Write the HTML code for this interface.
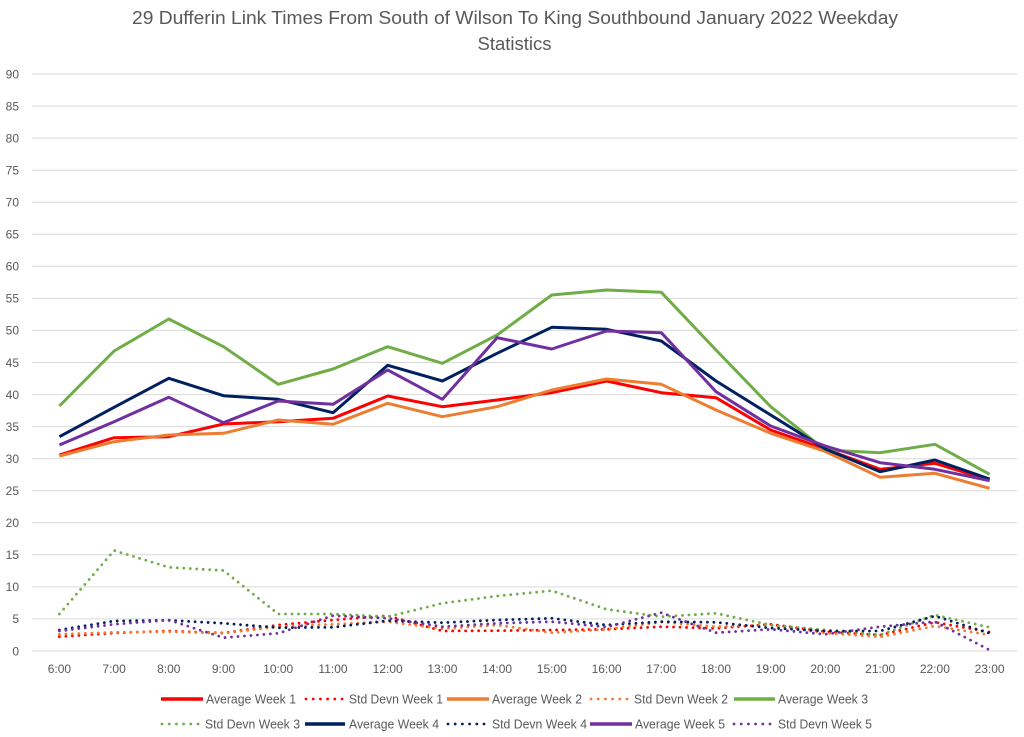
<!DOCTYPE html>
<html>
<head>
<meta charset="utf-8">
<style>
html,body{margin:0;padding:0;background:#fff;}
svg{display:block;}
text{font-family:"Liberation Sans",sans-serif;fill:#595959;}
</style>
</head>
<body>
<svg width="1024" height="737" viewBox="0 0 1024 737" xmlns="http://www.w3.org/2000/svg">
<rect width="1024" height="737" fill="#fff"/>
<!-- Title -->
<text x="132" y="24" font-size="18.5" textLength="766" lengthAdjust="spacingAndGlyphs">29 Dufferin Link Times From South of Wilson To King Southbound January 2022 Weekday</text>
<text x="514.5" y="50" font-size="18.5" text-anchor="middle">Statistics</text>

<!-- Gridlines -->
<g stroke="#D9D9D9" stroke-width="1">
<line x1="32" x2="1017" y1="651" y2="651"/>
<line x1="32" x2="1017" y1="618.9" y2="618.9"/>
<line x1="32" x2="1017" y1="586.9" y2="586.9"/>
<line x1="32" x2="1017" y1="554.8" y2="554.8"/>
<line x1="32" x2="1017" y1="522.8" y2="522.8"/>
<line x1="32" x2="1017" y1="490.7" y2="490.7"/>
<line x1="32" x2="1017" y1="458.7" y2="458.7"/>
<line x1="32" x2="1017" y1="426.6" y2="426.6"/>
<line x1="32" x2="1017" y1="394.6" y2="394.6"/>
<line x1="32" x2="1017" y1="362.5" y2="362.5"/>
<line x1="32" x2="1017" y1="330.4" y2="330.4"/>
<line x1="32" x2="1017" y1="298.4" y2="298.4"/>
<line x1="32" x2="1017" y1="266.3" y2="266.3"/>
<line x1="32" x2="1017" y1="234.3" y2="234.3"/>
<line x1="32" x2="1017" y1="202.2" y2="202.2"/>
<line x1="32" x2="1017" y1="170.2" y2="170.2"/>
<line x1="32" x2="1017" y1="138.1" y2="138.1"/>
<line x1="32" x2="1017" y1="106.1" y2="106.1"/>
<line x1="32" x2="1017" y1="74" y2="74"/>
</g>

<!-- Y labels -->
<g font-size="12" text-anchor="end">
<text x="19" y="655.3">0</text>
<text x="19" y="623.2">5</text>
<text x="19" y="591.2">10</text>
<text x="19" y="559.1">15</text>
<text x="19" y="527.1">20</text>
<text x="19" y="495">25</text>
<text x="19" y="463">30</text>
<text x="19" y="430.9">35</text>
<text x="19" y="398.9">40</text>
<text x="19" y="366.8">45</text>
<text x="19" y="334.7">50</text>
<text x="19" y="302.7">55</text>
<text x="19" y="270.6">60</text>
<text x="19" y="238.6">65</text>
<text x="19" y="206.5">70</text>
<text x="19" y="174.5">75</text>
<text x="19" y="142.4">80</text>
<text x="19" y="110.4">85</text>
<text x="19" y="78.3">90</text>
</g>

<!-- X labels -->
<g font-size="12" text-anchor="middle">
<text x="59.4" y="673">6:00</text>
<text x="114.1" y="673">7:00</text>
<text x="168.8" y="673">8:00</text>
<text x="223.5" y="673">9:00</text>
<text x="278.2" y="673">10:00</text>
<text x="333" y="673">11:00</text>
<text x="387.7" y="673">12:00</text>
<text x="442.4" y="673">13:00</text>
<text x="497.1" y="673">14:00</text>
<text x="551.8" y="673">15:00</text>
<text x="606.6" y="673">16:00</text>
<text x="661.3" y="673">17:00</text>
<text x="716" y="673">18:00</text>
<text x="770.7" y="673">19:00</text>
<text x="825.4" y="673">20:00</text>
<text x="880.2" y="673">21:00</text>
<text x="934.9" y="673">22:00</text>
<text x="989.6" y="673">23:00</text>
</g>

<!-- Series -->
<g fill="none" stroke-linejoin="round">
<!-- Average Week 1 -->
<polyline stroke="#FF0000" stroke-width="3" points="59.4,455 114.1,437.7 168.8,436.7 223.5,424 278.2,421.7 333,418.3 387.7,396 442.4,406.7 497.1,400 551.8,392.7 606.6,381 661.3,392.7 716,397.7 770.7,430 825.4,449 880.2,469.3 934.9,463.3 989.6,480"/>
<!-- Std Devn Week 1 -->
<polyline stroke="#FF0000" stroke-width="2.8" stroke-linecap="round" stroke-dasharray="0 6.5" points="59.4,636.7 114.1,633 168.8,631 223.5,633 278.2,625 333,620 387.7,615.7 442.4,631 497.1,630.7 551.8,630 606.6,629.3 661.3,626.7 716,628.3 770.7,624.3 825.4,631.7 880.2,635 934.9,622.3 989.6,632"/>
<!-- Average Week 2 -->
<polyline stroke="#ED7D31" stroke-width="3" points="59.4,456 114.1,441.7 168.8,435 223.5,433.3 278.2,420 333,424.3 387.7,403.3 442.4,416.7 497.1,406.7 551.8,390 606.6,379 661.3,384.3 716,410 770.7,433.3 825.4,451.5 880.2,477.3 934.9,473.3 989.6,488.3"/>
<!-- Std Devn Week 2 -->
<polyline stroke="#ED7D31" stroke-width="2.8" stroke-linecap="round" stroke-dasharray="0 6.5" points="59.4,634.3 114.1,632.3 168.8,631.7 223.5,633.3 278.2,626.7 333,624.3 387.7,621.7 442.4,628.7 497.1,625 551.8,632.7 606.6,629.3 661.3,622 716,626.7 770.7,625 825.4,633 880.2,637 934.9,626 989.6,635"/>
<!-- Average Week 3 -->
<polyline stroke="#70AD47" stroke-width="3" points="59.4,406 114.1,351 168.8,319 223.5,346.7 278.2,384.3 333,369 387.7,346.7 442.4,363.3 497.1,335 551.8,295 606.6,290 661.3,292.3 716,350 770.7,406.7 825.4,450 880.2,452.7 934.9,444.3 989.6,474.3"/>
<!-- Std Devn Week 3 -->
<polyline stroke="#70AD47" stroke-width="2.8" stroke-linecap="round" stroke-dasharray="0 6.5" points="59.4,614 114.1,550.5 168.8,567.3 223.5,570.5 278.2,614 333,614 387.7,616.7 442.4,603.3 497.1,596 551.8,590.7 606.6,609.3 661.3,616.7 716,613.3 770.7,625 825.4,630 880.2,635 934.9,615 989.6,627.3"/>
<!-- Average Week 4 -->
<polyline stroke="#002060" stroke-width="3" points="59.4,436.7 114.1,407.3 168.8,378.3 223.5,395.7 278.2,399.3 333,412.7 387.7,365.3 442.4,381 497.1,353.3 551.8,327.3 606.6,329.3 661.3,341 716,381 770.7,415 825.4,449 880.2,471.7 934.9,460 989.6,479"/>
<!-- Std Devn Week 4 -->
<polyline stroke="#002060" stroke-width="2.8" stroke-linecap="round" stroke-dasharray="0 6.5" points="59.4,630 114.1,621 168.8,620.3 223.5,623.3 278.2,627.7 333,627.3 387.7,620.7 442.4,622.7 497.1,620 551.8,618.3 606.6,625 661.3,621.7 716,622.3 770.7,628 825.4,631 880.2,631 934.9,616 989.6,633.3"/>
<!-- Average Week 5 -->
<polyline stroke="#7030A0" stroke-width="3" points="59.4,445 114.1,421.7 168.8,397.3 223.5,422.7 278.2,401 333,404.3 387.7,370 442.4,399.3 497.1,337.7 551.8,349 606.6,331 661.3,332.7 716,391.7 770.7,426 825.4,446 880.2,462.7 934.9,469.3 989.6,480.7"/>
<!-- Std Devn Week 5 -->
<polyline stroke="#7030A0" stroke-width="2.8" stroke-linecap="round" stroke-dasharray="0 6.5" points="59.4,631 114.1,624.3 168.8,620 223.5,637.7 278.2,633.3 333,615.7 387.7,618.3 442.4,626.7 497.1,623.3 551.8,621.7 606.6,627 661.3,612.7 716,632.7 770.7,629.3 825.4,634.3 880.2,626.7 934.9,621.7 989.6,650"/>
</g>

<!-- Legend -->
<g fill="none">
<line x1="161" x2="203" y1="699" y2="699" stroke="#FF0000" stroke-width="3.5"/>
<line x1="306" x2="342" y1="699" y2="699" stroke="#FF0000" stroke-width="2.8" stroke-linecap="round" stroke-dasharray="0 7.2"/>
<line x1="447" x2="489" y1="699" y2="699" stroke="#ED7D31" stroke-width="3.5"/>
<line x1="591" x2="627" y1="699" y2="699" stroke="#ED7D31" stroke-width="2.8" stroke-linecap="round" stroke-dasharray="0 7.2"/>
<line x1="734" x2="775" y1="699" y2="699" stroke="#70AD47" stroke-width="3.5"/>

<line x1="162" x2="198" y1="724" y2="724" stroke="#70AD47" stroke-width="2.8" stroke-linecap="round" stroke-dasharray="0 7.2"/>
<line x1="305" x2="345" y1="724" y2="724" stroke="#002060" stroke-width="3.5"/>
<line x1="448" x2="484" y1="724" y2="724" stroke="#002060" stroke-width="2.8" stroke-linecap="round" stroke-dasharray="0 7.2"/>
<line x1="590" x2="632" y1="724" y2="724" stroke="#7030A0" stroke-width="3.5"/>
<line x1="734" x2="770" y1="724" y2="724" stroke="#7030A0" stroke-width="2.8" stroke-linecap="round" stroke-dasharray="0 7.2"/>
</g>
<g font-size="13">
<text x="206" y="703.5" textLength="90" lengthAdjust="spacingAndGlyphs">Average Week 1</text>
<text x="349" y="703.5" textLength="94" lengthAdjust="spacingAndGlyphs">Std Devn Week 1</text>
<text x="492" y="703.5" textLength="90" lengthAdjust="spacingAndGlyphs">Average Week 2</text>
<text x="634" y="703.5" textLength="94" lengthAdjust="spacingAndGlyphs">Std Devn Week 2</text>
<text x="778" y="703.5" textLength="90" lengthAdjust="spacingAndGlyphs">Average Week 3</text>

<text x="205" y="728.5" textLength="95" lengthAdjust="spacingAndGlyphs">Std Devn Week 3</text>
<text x="349" y="728.5" textLength="90" lengthAdjust="spacingAndGlyphs">Average Week 4</text>
<text x="492" y="728.5" textLength="95" lengthAdjust="spacingAndGlyphs">Std Devn Week 4</text>
<text x="635" y="728.5" textLength="90" lengthAdjust="spacingAndGlyphs">Average Week 5</text>
<text x="778" y="728.5" textLength="94" lengthAdjust="spacingAndGlyphs">Std Devn Week 5</text>
</g>
</svg>
</body>
</html>
